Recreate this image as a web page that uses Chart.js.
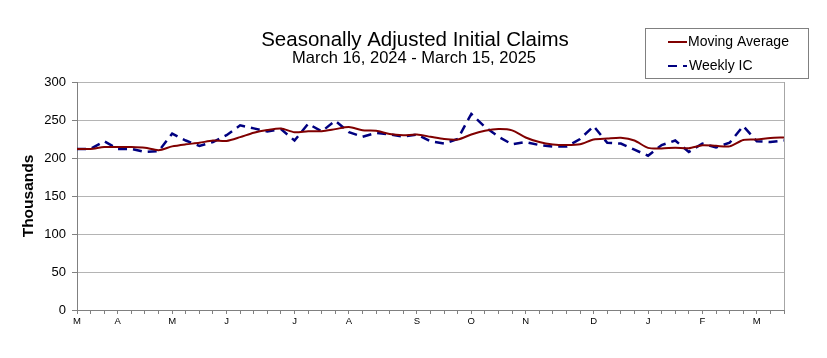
<!DOCTYPE html>
<html>
<head>
<meta charset="utf-8">
<script src="https://cdn.jsdelivr.net/npm/chart.js@4.4.1/dist/chart.umd.min.js"></script>
<style>
  body { margin: 0; background: #fff; }
</style>
</head>
<body>
<canvas id="claimsChart" width="827" height="358"></canvas>
<script>
// week ending dates, Mar 16 2024 .. Mar 15 2025
const weeks = [
    '2024-03-16', '2024-03-23', '2024-03-30', '2024-04-06', '2024-04-13', '2024-04-20', '2024-04-27',
    '2024-05-04', '2024-05-11', '2024-05-18', '2024-05-25', '2024-06-01', '2024-06-08', '2024-06-15',
    '2024-06-22', '2024-06-29', '2024-07-06', '2024-07-13', '2024-07-20', '2024-07-27', '2024-08-03',
    '2024-08-10', '2024-08-17', '2024-08-24', '2024-08-31', '2024-09-07', '2024-09-14', '2024-09-21',
    '2024-09-28', '2024-10-05', '2024-10-12', '2024-10-19', '2024-10-26', '2024-11-02', '2024-11-09',
    '2024-11-16', '2024-11-23', '2024-11-30', '2024-12-07', '2024-12-14', '2024-12-21', '2024-12-28',
    '2025-01-04', '2025-01-11', '2025-01-18', '2025-01-25', '2025-02-01', '2025-02-08', '2025-02-15',
    '2025-02-22', '2025-03-01', '2025-03-08', '2025-03-15'
];

// month letters shown under the first week of each month
const monthLabels = ['M', 'A', 'M', 'J', 'J', 'A', 'S', 'O', 'N', 'D', 'J', 'F', 'M'];
const monthLabelIndex = [0, 3, 7, 11, 16, 20, 25, 29, 33, 38, 42, 46, 50];

// thousands
const weeklyIC = [
    212, 212, 222, 212, 212, 208, 209, 232, 223, 216, 221, 230, 243, 239,
    235, 238, 223, 245, 235, 249, 234, 228, 233, 231, 228, 231, 222, 219,
    225, 258, 241, 228, 218, 221, 217, 215, 215, 225, 242, 220, 219, 211,
    203, 217, 223, 208, 219, 214, 220, 242, 222, 221, 223
];

const movingAverage = [
    212, 212, 214.5, 214.5, 214.5, 213.5, 210.3, 215.3, 218, 220, 223, 222.5, 227.5, 233.3,
    236.8, 238.8, 233.8, 235.3, 235.3, 238, 240.8, 236.5, 236, 231.5, 230, 230.8, 228, 225,
    224.3, 231, 235.8, 238, 236.3, 227, 221, 217.8, 217, 218, 224.3, 225.5, 226.5, 223,
    213.3, 212.5, 213.5, 212.8, 216.8, 216, 215.3, 223.8, 224.5, 226.3, 227
];

const yTicks = [0, 50, 100, 150, 200, 250, 300];

const FONT = "'Liberation Sans', Arial, sans-serif";

// title, subtitle, legend box and right border of the plot
const decorPlugin = {
    id: 'decor',
    afterDraw(chart) {
        const ctx = chart.ctx;
        const area = chart.chartArea;
        ctx.save();

        ctx.strokeStyle = '#a6a6a6';
        ctx.lineWidth = 1;
        ctx.beginPath();
        ctx.moveTo(Math.round(area.right) + 0.5, area.top);
        ctx.lineTo(Math.round(area.right) + 0.5, area.bottom);
        ctx.stroke();

        ctx.fillStyle = '#000';
        ctx.textAlign = 'center';
        ctx.textBaseline = 'middle';
        ctx.font = '20.5px ' + FONT;
        ctx.fillText('Seasonally Adjusted Initial Claims', 415, 40);
        ctx.font = '16.5px ' + FONT;
        ctx.fillText('March 16, 2024 - March 15, 2025', 414, 58);

        // legend
        ctx.fillStyle = '#fff';
        ctx.fillRect(645, 28, 163, 50);
        ctx.strokeStyle = '#808080';
        ctx.strokeRect(645.5, 28.5, 163, 50);

        chart.data.datasets.forEach((ds, i) => {
            const y = i === 0 ? 42 : 66;
            ctx.strokeStyle = ds.borderColor;
            ctx.lineWidth = 2;
            ctx.setLineDash(ds.borderDash || []);
            ctx.beginPath();
            ctx.moveTo(668, y);
            ctx.lineTo(687, y);
            ctx.stroke();
            ctx.setLineDash([]);
            ctx.fillStyle = '#000';
            ctx.textAlign = 'left';
            ctx.font = '14px ' + FONT;
            ctx.fillText(ds.label, i === 0 ? 688 : 689, y);
        });

        ctx.restore();
    }
};

const ctx = document.getElementById('claimsChart');
new Chart(ctx, {
    type: 'line',
    data: {
        labels: weeks,
        datasets: [{
            label: 'Moving Average',
            data: movingAverage,
            borderColor: '#800000',
            borderWidth: 2,
            pointRadius: 0,
            tension: 0.25,
            fill: false
        }, {
            label: 'Weekly IC',
            data: weeklyIC,
            borderColor: '#000080',
            borderWidth: 2.5,
            borderDash: [9, 6],
            pointRadius: 0,
            tension: 0,
            fill: false
        }]
    },
    options: {
        responsive: false,
        animation: false,
        layout: {
            padding: { top: 82, right: 43, bottom: 0, left: 0 }
        },
        plugins: {
            legend: { display: false },
            title: { display: false },
            tooltip: { enabled: false }
        },
        scales: {
            x: {
                offset: false,
                afterFit: s => { s.height = 48; },
                grid: {
                    drawOnChartArea: false,
                    drawTicks: true,
                    tickLength: 4,
                    color: '#808080'
                },
                border: { color: '#808080' },
                ticks: {
                    autoSkip: false,
                    maxRotation: 0,
                    padding: 2,
                    color: '#000',
                    font: { family: FONT, size: 9.5 },
                    callback: (val, idx) => {
                        const k = monthLabelIndex.indexOf(idx);
                        return k >= 0 ? monthLabels[k] : '';
                    }
                }
            },
            y: {
                min: 0,
                max: 300,
                afterFit: s => { s.width = 77; },
                afterBuildTicks: s => { s.ticks = yTicks.map(v => ({ value: v })); },
                grid: {
                    color: '#b4b4b4',
                    tickLength: 5,
                    tickColor: '#808080'
                },
                border: { color: '#808080' },
                ticks: {
                    padding: 6,
                    color: '#000',
                    font: { family: FONT, size: 13 }
                },
                title: {
                    display: true,
                    text: 'Thousands',
                    color: '#000',
                    padding: { top: 19, bottom: 0 },
                    font: { family: FONT, size: 15.5, weight: 'bold' }
                }
            }
        }
    },
    plugins: [decorPlugin]
});
</script>
</body>
</html>
